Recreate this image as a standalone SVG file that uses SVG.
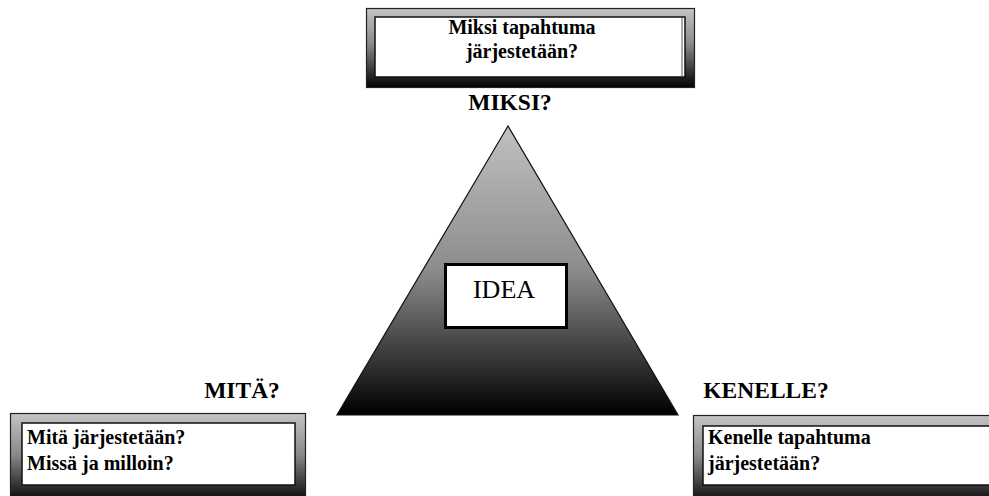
<svg xmlns="http://www.w3.org/2000/svg" width="989" height="496" viewBox="0 0 989 496">
<defs>
<linearGradient id="frameGrad" x1="0" y1="0" x2="0" y2="1">
<stop offset="0" stop-color="#c4c4c4"/>
<stop offset="0.45" stop-color="#8a8a8a"/>
<stop offset="1" stop-color="#000"/>
</linearGradient>
<linearGradient id="triGrad" x1="0" y1="0" x2="0" y2="1">
<stop offset="0" stop-color="#c0c0c0"/>
<stop offset="0.5" stop-color="#8c8c8c"/>
<stop offset="1" stop-color="#000"/>
</linearGradient>
</defs>
<style>
.frame{fill:url(#frameGrad);stroke:#222;stroke-width:1.2}
.inner{fill:#fff;stroke:#111;stroke-width:1.5}
.bt{font-family:"Liberation Serif","Times New Roman",serif;font-weight:bold;font-size:20px;fill:#000}
.lbl{font-family:"Liberation Serif","Times New Roman",serif;font-weight:bold;font-size:23.5px;fill:#000}
.idea{font-family:"Liberation Serif","Times New Roman",serif;font-size:26px;fill:#000}
</style>
<rect width="989" height="496" fill="#fff"/>
<g id="triangle">
<polygon points="508,126 337,415 678,415" fill="url(#triGrad)" stroke="#111" stroke-width="1.2"/>
</g>
<g id="idea">
<rect x="445.5" y="264.5" width="121" height="63" fill="#fff" stroke="#000" stroke-width="3"/>
<text class="idea" x="504" y="298" text-anchor="middle">IDEA</text>
</g>
<g id="miksi">
<rect class="frame" x="366.5" y="8.5" width="328" height="79"/>
<rect class="inner" x="375" y="17" width="310" height="60"/>
<line x1="682" y1="18" x2="682" y2="76" stroke="#555" stroke-width="1"/>
<text class="bt" x="522" y="34" text-anchor="middle">Miksi tapahtuma</text>
<text class="bt" x="522" y="58" text-anchor="middle">järjestetään?</text>
<text class="lbl" x="510" y="110" text-anchor="middle">MIKSI?</text>
</g>
<g id="mita">
<rect class="frame" x="10.5" y="413.5" width="295" height="90"/>
<rect class="inner" x="22" y="423" width="273" height="62"/>
<text class="bt" x="27" y="444">Mitä järjestetään?</text>
<text class="bt" x="27" y="470">Missä ja milloin?</text>
<text class="lbl" x="242" y="398" text-anchor="middle">MITÄ?</text>
</g>
<g id="kenelle">
<rect class="frame" x="693.5" y="415.5" width="310" height="90"/>
<rect class="inner" x="703" y="426" width="300" height="59"/>
<text class="bt" x="708" y="444">Kenelle tapahtuma</text>
<text class="bt" x="708" y="470">järjestetään?</text>
<text class="lbl" x="766" y="398" text-anchor="middle">KENELLE?</text>
</g>
<g id="connectors"/>
</svg>
